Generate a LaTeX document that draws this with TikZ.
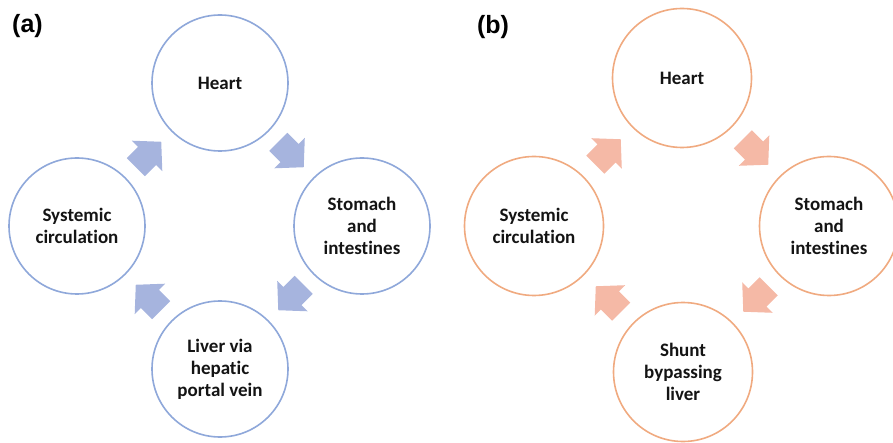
\documentclass[tikz,border=0pt]{standalone}
\usepackage{fontspec}
\setmainfont{Carlito}[Ligatures={NoCommon}]
\newfontfamily\labfont{Liberation Sans}
\usetikzlibrary{calc}
\definecolor{bluestroke}{RGB}{143,168,218}
\definecolor{bluefill}{RGB}{166,180,222}
\definecolor{orstroke}{RGB}{240,170,128}
\definecolor{orfill}{RGB}{245,185,166}
\definecolor{txt}{RGB}{20,20,20}
\newcommand{\blockarr}[4]{%
  \fill[#4, shift={($(#1)!0.5!(#2)$)}, rotate=#3]
    (-18,-12.75) -- (-2,-12.75) -- (-2,-21.5) -- (18,0)
    -- (-2,21.5) -- (-2,12.75) -- (-18,12.75) -- cycle;}
\begin{document}
\begin{tikzpicture}[x=1pt,y=-1pt,
  organ/.style={circle, draw, line width=1.6pt, fill=white, text=txt,
    align=center, inner sep=0pt,
    font=\bfseries\fontsize{19}{22}\selectfont},
  bluec/.style={organ, draw=bluestroke, minimum size=136pt},
  orc/.style={organ, draw=orstroke, minimum size=139pt},
  panellab/.style={font=\labfont\bfseries\fontsize{25}{28}\selectfont, text=black, inner sep=0pt}]
\useasboundingbox (0,0) rectangle (893,443);
% panel (a)
\node[panellab] (la) at (27.5,26) {(a)};
\node[bluec] (ha) at (220,83) {Heart};
\node[bluec] (sa) at (362,226) {Stomach\\and\\intestines};
\node[bluec] (ya) at (77,226) {Systemic\\circulation};
\node[bluec] (va) at (220,369) {Liver via\\hepatic\\portal vein};
\blockarr{ha}{sa}{-45}{bluefill}
\blockarr{sa}{va}{-135}{bluefill}
\blockarr{va}{ya}{135}{bluefill}
\blockarr{ya}{ha}{45}{bluefill}
% panel (b)
\node[panellab] (lb) at (493,27) {(b)};
\node[orc] (hb) at (682,78) {Heart};
\node[orc] (sb) at (829,226) {Stomach\\and\\intestines};
\node[orc] (yb) at (534,226) {Systemic\\circulation};
\node[orc] (vb) at (683,372) {Shunt\\bypassing\\liver};
\blockarr{hb}{sb}{-45}{orfill}
\blockarr{sb}{vb}{-135}{orfill}
\blockarr{vb}{yb}{135}{orfill}
\blockarr{yb}{hb}{45}{orfill}
\end{tikzpicture}
\end{document}
